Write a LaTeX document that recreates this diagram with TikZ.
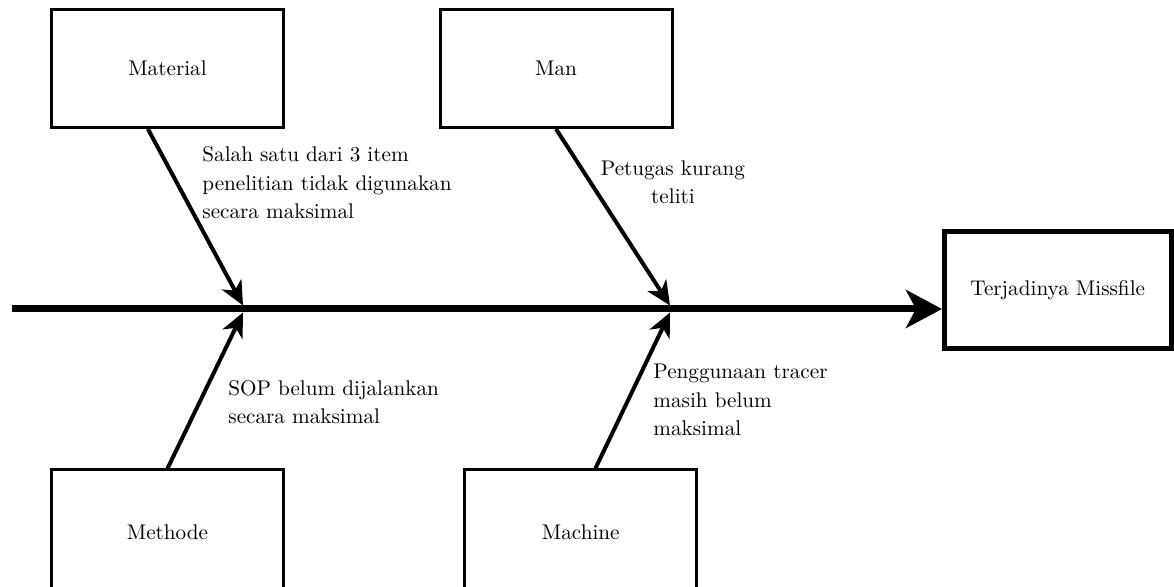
\documentclass[tikz,border=0pt]{standalone}
\usetikzlibrary{arrows.meta, positioning, calc}

\begin{document}
\begin{tikzpicture}[
    x=0.5pt, y=-0.5pt,
    font=\fontsize{10.6}{14.25}\selectfont,
    causeBox/.style={draw=black, fill=white, minimum width=116pt, minimum height=58.75pt, align=center, line width=1.5pt},
    lowBox/.style={causeBox, minimum height=62pt},
    effectBox/.style={draw=black, fill=white, minimum width=113.25pt, minimum height=58.5pt, align=center, line width=2.5pt},
    causeArrow/.style={-{Stealth[length=12pt, width=11pt, inset=3.5pt]}, line width=2pt},
    spineArrow/.style={-{Stealth[length=18pt, width=19pt, inset=5pt]}, line width=3.5pt},
    noteText/.style={inner sep=0pt, align=left}
]
\useasboundingbox (0,0) rectangle (1174,587);

% Top causes
\node[causeBox] (mat) at (167.5,68.75) {Material};
\node[causeBox] (man) at (556,68.75) {Man};

% Bottom causes (cut by the page edge)
\node[lowBox] (met) at (167.5,532) {Methode};
\node[lowBox] (mac) at (580.75,532) {Machine};

% Effect (head of the fish)
\node[effectBox] (eff) at (1057.75,290) {Terjadinya Missfile};

% Spine
\coordinate (tail) at (12,309);
\coordinate (j1) at (243,309);
\coordinate (j2) at (670,309);
\draw[spineArrow] (tail) -- (eff.west |- tail);

% Bones
\draw[causeArrow] (mat.252) -- ([yshift=1.75pt]j1);
\draw[causeArrow] (man.south) -- ([yshift=1.75pt]j2);
\draw[causeArrow] (met.north) -- ([yshift=-1.75pt]j1);
\draw[causeArrow] (mac.77) -- ([yshift=-1.75pt]j2);

% Notes next to the bones
\node[noteText, anchor=west] (matNote) at (202,183) {Salah satu dari 3 item\\penelitian tidak digunakan\\secara maksimal};
\node[noteText, align=center] (manNote) at (673,182.5) {Petugas kurang\\teliti};
\node[noteText, anchor=west] (metNote) at (228,402) {SOP belum dijalankan\\secara maksimal};
\node[noteText, anchor=west] (macNote) at (653,400) {Penggunaan tracer\\masih belum\\maksimal};

\end{tikzpicture}
\end{document}
